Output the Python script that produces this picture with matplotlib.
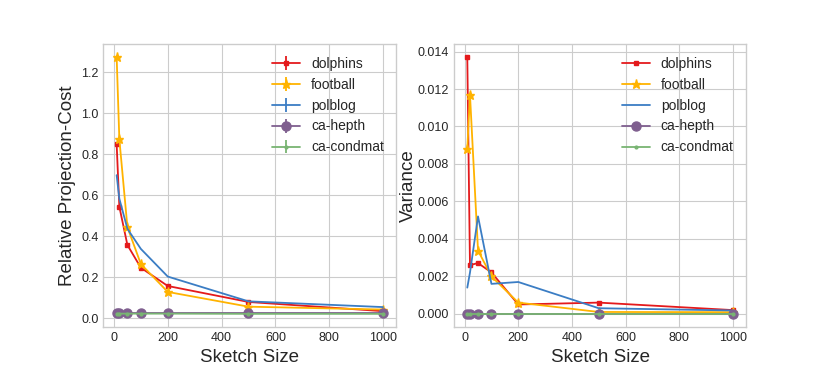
import matplotlib.pyplot as plt
import numpy as np

plt.style.use('seaborn-v0_8-whitegrid')
plt.rcParams['font.family'] = ['Liberation Sans', 'DejaVu Sans']

sizes = np.array([10, 20, 50, 100, 200, 500, 1000])
names = ["dolphins", "football", "polblog", "ca-hepth", "ca-condmat"]

# relative projection cost
cost_dolphins = np.array([0.849, 0.544, 0.357, 0.246, 0.157, 0.079, 0.034])
cost_football = np.array([1.275, 0.873, 0.444, 0.264, 0.128, 0.056, 0.042])
cost_polblog = np.array([0.698, 0.583, 0.436, 0.338, 0.203, 0.082, 0.054])
cost_hepth = np.array([0.023, 0.023, 0.023, 0.023, 0.023, 0.023, 0.023])
cost_condmat = np.array([0.022, 0.022, 0.022, 0.022, 0.022, 0.021, 0.021])

# variance
var_dolphins = np.array([0.01371, 0.0026, 0.00271, 0.00221, 0.0005, 0.0006, 0.0002])
var_football = np.array([0.0088, 0.0117, 0.00338, 0.002, 0.0006, 0.0001, 0.00009])
var_polblog = np.array([0.0014, 0.0022, 0.0052, 0.0016, 0.0017, 0.0003, 0.00018])
var_hepth = np.array([0.0, 0.0, 0.0, 0.0, 0.0, 0.0, 0.0])
var_condmat = np.array([0.0, 0.0, 0.0, 0.0, 0.0, 0.0, 0.0])

colors = ['#e41a1c', '#ffb300', '#3b7dc4', '#7f5f8f', '#78b472']
markers = ['s', '*', None, 'o', '.']
msizes = [3.5, 6.5, 0, 6.5, 4]

fig = plt.figure(figsize=(8.3, 3.74), dpi=100)
ax1 = fig.add_axes([0.1245, 0.1265, 0.353, 0.7555])
ax2 = fig.add_axes([0.547, 0.1265, 0.352, 0.7555])

costs = [cost_dolphins, cost_football, cost_polblog, cost_hepth, cost_condmat]
for i, y in enumerate(costs):
    ax1.errorbar(sizes, y, yerr=np.zeros_like(y), color=colors[i], marker=markers[i],
                 markersize=msizes[i], linewidth=1.3, label=names[i])

variances = [var_dolphins, var_football, var_polblog, var_hepth, var_condmat]
for i, y in enumerate(variances):
    ax2.plot(sizes, y, color=colors[i], marker=markers[i],
             markersize=msizes[i], linewidth=1.3, label=names[i])

for ax in (ax1, ax2):
    ax.set_xlabel("Sketch Size", fontsize=13.5)
    ax.tick_params(labelsize=9, colors='0.15')
    ax.set_xticks([0, 200, 400, 600, 800, 1000])
    ax.legend(loc='upper right', fontsize=10, frameon=False)
    for s in ax.spines.values():
        s.set_visible(True)
        s.set_color('0.8')

ax1.set_ylabel("Relative Projection-Cost", fontsize=13.5)
ax2.set_ylabel("Variance", fontsize=13.5, labelpad=0.5)

fig.savefig("out.png", dpi=100)
